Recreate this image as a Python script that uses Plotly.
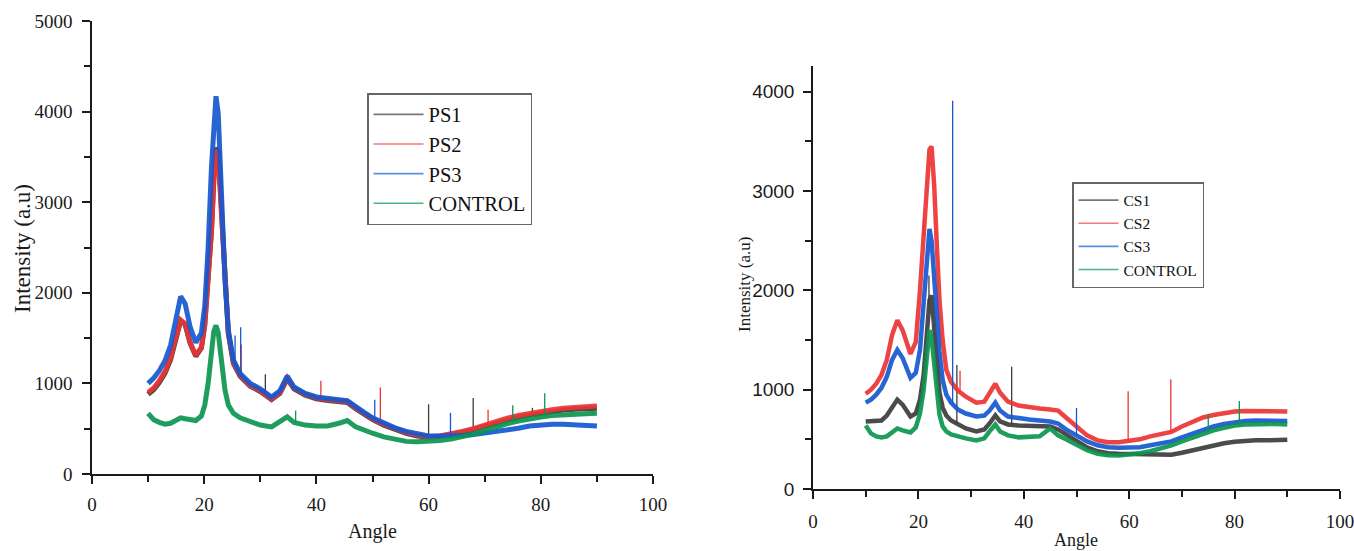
import numpy as np
import plotly.graph_objects as go

# ---------------- Left panel (PS samples) ----------------
PS_ANGLE = [10, 11, 12, 13, 14, 15, 15.8, 16.6, 17.5, 18.5,
            19.5, 20.1, 20.7, 21.3, 21.7, 22.1, 22.5, 22.8, 23.3, 23.7,
            24.3, 25.2, 26.4, 28.2, 30, 32, 33.5, 34.8, 36, 38,
            40, 42, 44, 45.5, 47, 48.5, 50, 52, 54, 56,
            58, 60, 62, 64, 66, 68, 70, 72, 74, 76,
            78, 80, 82, 84, 86, 88, 90]
PS1 = [880, 930, 1010, 1110, 1260, 1510, 1690, 1650, 1440, 1300,
       1390, 1640, 2130, 2680, 3230, 3600, 3560, 3220, 2600, 2130,
       1550, 1220, 1080, 970, 910, 820, 890, 1050, 940, 870,
       830, 810, 800, 790, 720, 660, 600, 540, 490, 450,
       420, 405, 415, 435, 460, 490, 525, 560, 595, 625,
       650, 670, 690, 705, 715, 720, 725]
PS2 = [900, 950, 1030, 1130, 1280, 1530, 1700, 1660, 1450, 1310,
       1400, 1650, 2150, 2690, 3240, 3580, 3500, 3200, 2600, 2140,
       1560, 1230, 1090, 980, 920, 830, 900, 1060, 950, 880,
       840, 820, 810, 800, 730, 670, 610, 550, 500, 460,
       430, 410, 420, 440, 470, 500, 540, 580, 615, 645,
       670, 690, 710, 725, 735, 745, 750]
PS3 = [1000, 1060, 1140, 1250, 1420, 1720, 1960, 1880, 1620, 1450,
       1560, 1850, 2500, 3390, 3900, 4170, 3980, 3430, 2690, 2140,
       1590, 1260, 1110, 1000, 940, 850, 920, 1080, 960, 890,
       850, 830, 820, 810, 740, 680, 620, 560, 510, 470,
       440, 420, 420, 420, 425, 435, 450, 465, 485, 505,
       530, 545, 550, 550, 545, 540, 530]
PS_CONTROL = [670, 600, 570, 550, 560, 590, 620, 610, 600, 590,
              640, 760, 1000, 1350, 1570, 1640, 1560, 1400, 1130, 930,
              760, 670, 620, 580, 540, 520, 580, 630, 570, 540,
              530, 530, 560, 590, 520, 480, 450, 410, 380, 360,
              355, 360, 370, 385, 410, 440, 480, 520, 555, 585,
              610, 630, 645, 655, 660, 665, 670]
# sharp spikes (angle, top intensity)
PS1_SPIKES = [(30.9, 1100), (60.0, 770), (67.95, 840), (78.5, 730)]
PS2_SPIKES = [(26.6, 1430), (40.8, 1030), (51.4, 955), (70.6, 710)]
PS3_SPIKES = [(25.5, 1530), (26.5, 1620), (50.4, 820), (63.9, 675)]
PSC_SPIKES = [(36.3, 700), (75.0, 760), (80.7, 890)]

# ---------------- Right panel (CS samples) ----------------
CS_ANGLE = [10, 11, 12, 13, 14, 15, 16, 17, 18.5, 19.5,
            20.3, 21, 21.6, 22.1, 22.5, 23, 23.5, 24, 24.6, 25.3,
            26.2, 27.5, 29, 31, 32.5, 33.5, 34.6, 35.5, 37, 39,
            41, 43, 45, 46.5, 48, 50, 52, 54, 56, 58,
            60, 62, 64, 66, 68, 70, 72, 74, 76, 78,
            80, 82, 84, 86, 88, 90]
CS1 = [680, 680, 680, 690, 740, 830, 900, 850, 730, 760,
       900, 1150, 1600, 1900, 1950, 1650, 1270, 970, 820, 740,
       690, 650, 610, 580, 600, 660, 740, 680, 650, 640,
       640, 640, 630, 600, 550, 480, 420, 380, 360, 355,
       355, 355, 355, 355, 345, 365, 390, 415, 440, 460,
       475, 485, 490, 490, 495, 495]
CS2 = [960, 1000, 1060, 1150, 1300, 1550, 1700, 1600, 1360, 1480,
       2000, 2550, 3050, 3420, 3450, 3050, 2450, 1900, 1500, 1200,
       1080, 990, 930, 870, 880, 960, 1060, 970, 880, 840,
       820, 810, 800, 790, 720, 630, 540, 490, 470, 470,
       480, 500, 530, 555, 575, 630, 680, 720, 745, 765,
       780, 785, 785, 785, 785, 780]
CS3 = [870, 900, 950, 1020, 1130, 1300, 1400, 1320, 1120, 1170,
       1400, 1900, 2400, 2620, 2500, 2100, 1700, 1380, 1100, 950,
       870, 800, 760, 730, 740, 790, 870, 790, 730, 710,
       700, 690, 680, 660, 600, 540, 480, 440, 420, 415,
       415, 420, 440, 460, 480, 520, 560, 600, 630, 655,
       675, 685, 690, 690, 690, 685]
CS_CONTROL = [640, 560, 530, 520, 530, 570, 610, 590, 570, 620,
              760, 1000, 1400, 1600, 1520, 1250, 960, 750, 630, 580,
              550, 530, 510, 490, 510, 580, 650, 580, 540, 520,
              520, 530, 610, 540, 500, 450, 390, 355, 340, 338,
              345, 360, 380, 405, 440, 480, 520, 560, 590, 615,
              640, 650, 655, 655, 655, 650]
CS1_SPIKES = [(22.0, 2150), (27.3, 1250), (37.7, 1230)]
CS2_SPIKES = [(21.0, 2720), (27.9, 1190), (59.8, 985), (67.9, 1105)]
CS3_SPIKES = [(26.5, 3910), (50.0, 815)]
CSC_SPIKES = [(75.0, 750), (80.9, 885)]

PS_NAMES = ["PS1", "PS2", "PS3", "CONTROL"]
CS_NAMES = ["CS1", "CS2", "CS3", "CONTROL"]
COLORS = ["#3c3c3c", "#ec3434", "#1558d0", "#0b9550"]
LEGEND_COLORS = ["#777777", "#f27a7a", "#5a8fe6", "#4db584"]

SERIF = "Liberation Serif"
SANS = "Liberation Sans"

fig = go.Figure()


def add_panel(angle, series, spikes, names, xa, ya, legend, width):
    for vals, spk, name, col, lcol in zip(series, spikes, names, COLORS, LEGEND_COLORS):
        fig.add_trace(go.Scatter(x=angle, y=vals, mode="lines",
                                 line=dict(color=col, width=width),
                                 opacity=0.92, showlegend=False,
                                 xaxis=xa, yaxis=ya, hoverinfo="skip"))
        sx, sy = [], []
        for a, top in spk:
            base = float(np.interp(a, angle, vals))
            sx += [a, a, None]
            sy += [base, top, None]
        fig.add_trace(go.Scatter(x=sx, y=sy, mode="lines",
                                 line=dict(color=col, width=1.3),
                                 showlegend=False, xaxis=xa, yaxis=ya,
                                 hoverinfo="skip"))
        fig.add_trace(go.Scatter(x=[None], y=[None], mode="lines", name=name,
                                 line=dict(color=lcol, width=1.6),
                                 xaxis=xa, yaxis=ya, legend=legend))


add_panel(PS_ANGLE, [PS1, PS2, PS3, PS_CONTROL],
          [PS1_SPIKES, PS2_SPIKES, PS3_SPIKES, PSC_SPIKES],
          PS_NAMES, "x", "y", "legend", 5)
add_panel(CS_ANGLE, [CS1, CS2, CS3, CS_CONTROL],
          [CS1_SPIKES, CS2_SPIKES, CS3_SPIKES, CSC_SPIKES],
          CS_NAMES, "x2", "y2", "legend2", 4.5)

W, H = 1354, 551


def px_x(p):
    return p / W


def px_y(p):
    return (H - p) / H


axis_common = dict(showgrid=False, zeroline=False, showline=True,
                   linecolor="#1a1a1a", linewidth=1.5, ticks="outside",
                   ticklen=8, tickwidth=1.5, tickcolor="#1a1a1a",
                   mirror=False, automargin=False, ticklabeloverflow="allow")

fig.update_layout(
    width=W, height=H,
    margin=dict(l=0, r=0, t=0, b=0, autoexpand=False),
    paper_bgcolor="white", plot_bgcolor="white",
    xaxis=dict(domain=[px_x(92), px_x(653)], range=[0, 100], anchor="y",
               tickvals=[0, 20, 40, 60, 80, 100],
               minor=dict(tickvals=[10, 30, 50, 70, 90], ticks="outside",
                          ticklen=6, tickwidth=1.5, tickcolor="#1a1a1a"),
               tickfont=dict(family=SERIF, size=19, color="#1a1a1a"),
               ticklabelstandoff=4, **axis_common),
    yaxis=dict(domain=[px_y(474), px_y(21)], range=[0, 5000], anchor="x",
               tickvals=[0, 1000, 2000, 3000, 4000, 5000],
               minor=dict(tickvals=[500, 1500, 2500, 3500, 4500], ticks="outside",
                          ticklen=6, tickwidth=1.5, tickcolor="#1a1a1a"),
               tickfont=dict(family=SERIF, size=19, color="#1a1a1a"),
               ticklabelstandoff=6, **axis_common),
    xaxis2=dict(domain=[px_x(813), px_x(1340)], range=[0, 100], anchor="y2",
                tickvals=[0, 20, 40, 60, 80, 100],
                minor=dict(tickvals=[10, 30, 50, 70, 90], ticks="outside",
                           ticklen=6, tickwidth=1.5, tickcolor="#1a1a1a"),
                tickfont=dict(family=SERIF, size=19, color="#1a1a1a"),
                ticklabelstandoff=6, **axis_common),
    yaxis2=dict(domain=[px_y(489), px_y(66)], range=[0, 4260], anchor="x2",
                tickvals=[0, 1000, 2000, 3000, 4000],
                minor=dict(tickvals=[500, 1500, 2500, 3500], ticks="outside",
                           ticklen=6, tickwidth=1.5, tickcolor="#1a1a1a"),
                tickfont=dict(family=SANS, size=19, color="#1a1a1a"),
                ticklabelstandoff=5, **axis_common),
    legend=dict(x=px_x(367), y=px_y(93), xanchor="left", yanchor="top",
                bordercolor="#666666", borderwidth=1.5, bgcolor="white",
                font=dict(family=SERIF, size=20.5, color="#111111"),
                itemwidth=50, tracegroupgap=0),
    legend2=dict(x=px_x(1072), y=px_y(182), xanchor="left", yanchor="top",
                 bordercolor="#666666", borderwidth=1.5, bgcolor="white",
                 font=dict(family=SERIF, size=15.5, color="#111111"),
                 itemwidth=40, tracegroupgap=0),
    annotations=[
        dict(text="Intensity (a.u)", x=px_x(22), y=px_y(249), xref="paper", yref="paper",
             textangle=-90, showarrow=False, xanchor="center", yanchor="middle",
             font=dict(family=SERIF, size=23, color="#1a1a1a")),
        dict(text="Angle", x=px_x(372), y=px_y(531), xref="paper", yref="paper",
             showarrow=False, xanchor="center", yanchor="middle",
             font=dict(family=SERIF, size=20, color="#1a1a1a")),
        dict(text="Intensity (a.u)", x=px_x(745), y=px_y(285), xref="paper", yref="paper",
             textangle=-90, showarrow=False, xanchor="center", yanchor="middle",
             font=dict(family=SERIF, size=17, color="#1a1a1a")),
        dict(text="Angle", x=px_x(1076), y=px_y(540), xref="paper", yref="paper",
             showarrow=False, xanchor="center", yanchor="middle",
             font=dict(family=SERIF, size=18, color="#1a1a1a")),
    ],
)

fig.write_html("out.html",
               config={"displayModeBar": False},
               post_script="document.body.style.margin='0';"
                           "document.body.style.overflow='hidden';")
